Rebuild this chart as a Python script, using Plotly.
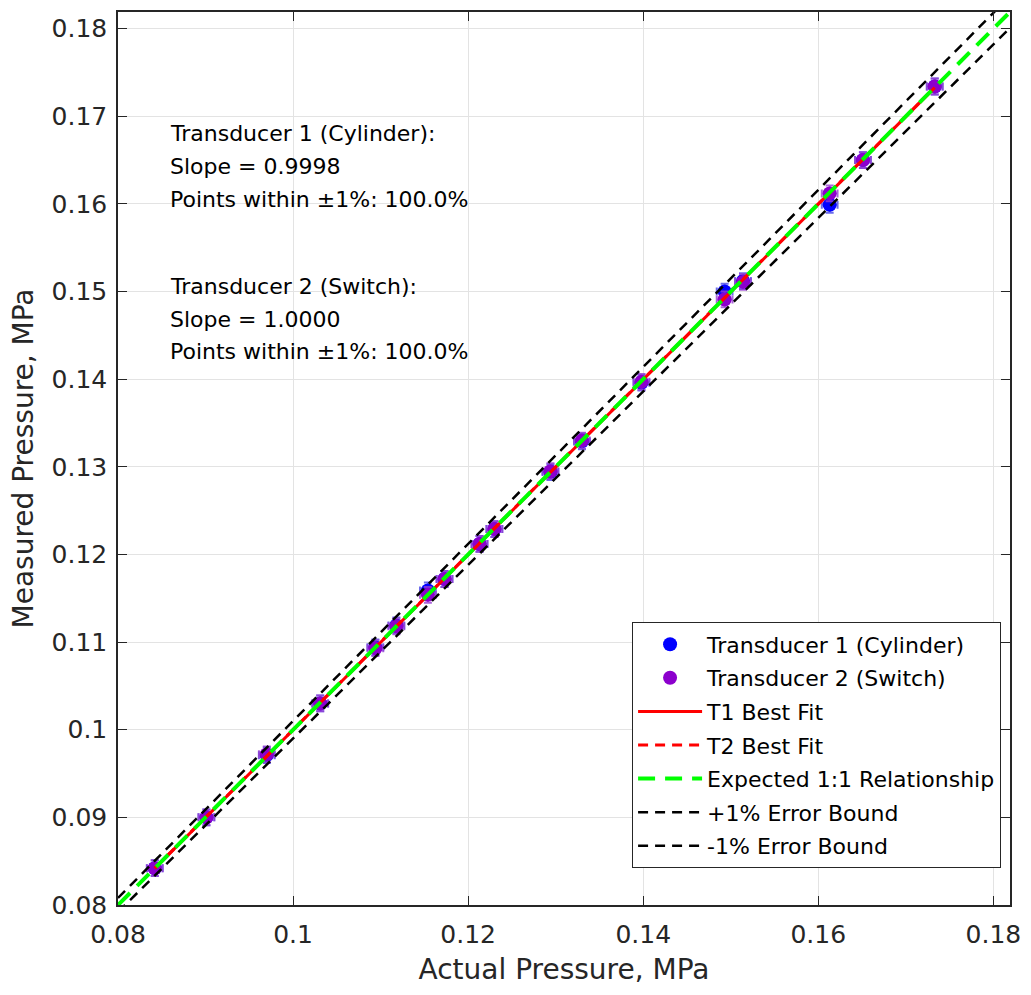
import numpy as np
import plotly.graph_objects as go

# Reference (actual) pressures, MPa
actual = [0.0842, 0.0901, 0.0970, 0.1031, 0.1094, 0.1118, 0.1154, 0.1173, 0.1213,
          0.1230, 0.1294, 0.1330, 0.1398, 0.1493, 0.1514, 0.1613, 0.1651, 0.1733]
# Transducer readings, MPa
t1_measured = [0.0842, 0.0900, 0.0971, 0.1030, 0.1094, 0.1119, 0.1159, 0.1172, 0.1212,
               0.1229, 0.1294, 0.1329, 0.1396, 0.1500, 0.1512, 0.1599, 0.1650, 0.1734]
t2_measured = [0.0842, 0.0900, 0.0972, 0.1030, 0.1093, 0.1118, 0.1154, 0.1172, 0.1212,
               0.1229, 0.1295, 0.1330, 0.1397, 0.1491, 0.1511, 0.1612, 0.1650, 0.1734]
# Measurement uncertainty, MPa
x_err = 0.0009
y_err = 0.0009

# Linear fit parameters (measured = slope * actual + intercept)
fit_slope = [0.9998, 1.0000]
fit_intercept = [0.0, 0.0]
tolerance = 0.01

axis_lo, axis_hi = 0.08, 0.1819
x_tickvals = [0.08, 0.10, 0.12, 0.14, 0.16, 0.18]
x_ticktext = ["0.08", "0.1", "0.12", "0.14", "0.16", "0.18"]
y_tickvals = [0.08, 0.09, 0.10, 0.11, 0.12, 0.13, 0.14, 0.15, 0.16, 0.17, 0.18]
y_ticktext = ["0.08", "0.09", "0.1", "0.11", "0.12", "0.13", "0.14", "0.15", "0.16", "0.17", "0.18"]

FONT = "DejaVu Sans"
AX = "#262626"

ax = np.array(actual)
within = []
for meas in (t1_measured, t2_measured):
    rel = np.abs(np.array(meas) - ax) / ax
    within.append(100.0 * np.mean(rel <= tolerance))

fig = go.Figure()

def data_trace(meas, name, color, bar_color, rank):
    return go.Scatter(
        x=actual, y=meas, mode="markers", name=name, legendrank=rank, legendgroup=name,
        marker=dict(color=color, size=14, line=dict(width=0)),
        error_x=dict(type="constant", value=x_err, color=bar_color, thickness=2, width=4),
        error_y=dict(type="constant", value=y_err, color=bar_color, thickness=2, width=4),
    )

fig.add_trace(data_trace(t1_measured, "Transducer 1 (Cylinder)", "rgb(0,0,255)",
                         "rgba(70,70,230,0.8)", 1))
fig.add_trace(data_trace(t2_measured, "Transducer 2 (Switch)", "rgb(140,0,205)",
                         "rgba(150,60,210,0.8)", 2))

def line_trace(x, y, name, color, width, dash, rank):
    return go.Scatter(x=x, y=y, mode="lines", name=name, legendrank=rank, legendgroup=name,
                      line=dict(color=color, width=width, dash=dash))

xr = np.array([axis_lo, axis_hi])
fig.add_trace(line_trace(xr, xr * (1 + tolerance), "+1% Error Bound", "black", 2.5, "10px,7px", 6))
fig.add_trace(line_trace(xr, xr * (1 - tolerance), "-1% Error Bound", "black", 2.5, "10px,7px", 7))

xf = np.array([min(actual), max(actual)])
fig.add_trace(line_trace(xf, fit_slope[0] * xf + fit_intercept[0], "T1 Best Fit",
                         "rgb(255,0,0)", 3, "solid", 3))
fig.add_trace(line_trace(xf, fit_slope[1] * xf + fit_intercept[1], "T2 Best Fit",
                         "rgb(255,0,0)", 3, "10px,7px", 4))
fig.add_trace(line_trace(xr, xr, "Expected 1:1 Relationship", "rgb(0,255,0)", 4,
                         "17px,10px", 5))

# Fit summary text
lines = [
    "Transducer 1 (Cylinder):",
    f"Slope = {fit_slope[0]:.4f}",
    f"Points within \u00b11%: {within[0]:.1f}%",
    "Transducer 2 (Switch):",
    f"Slope = {fit_slope[1]:.4f}",
    f"Points within \u00b11%: {within[1]:.1f}%",
]
line_y = [132, 165, 198, 285, 318, 350]
for txt, py in zip(lines, line_y):
    fig.add_annotation(text=txt, xref="paper", yref="paper",
                       x=(168 - 118) / 898, y=(905 - py) / 895,
                       xanchor="left", yanchor="middle", showarrow=False,
                       font=dict(family=FONT, size=22, color="black"))

axis_common = dict(
    range=[axis_lo, axis_hi], showgrid=True, gridcolor="#e3e3e3", gridwidth=1,
    showline=True, linecolor=AX, linewidth=1.5, mirror="allticks",
    ticks="inside", ticklen=9, tickwidth=1.2, tickcolor=AX, zeroline=False,
    tickfont=dict(family=FONT, size=25, color=AX),
)

fig.update_xaxes(**axis_common, tickmode="array", tickvals=x_tickvals, ticktext=x_ticktext,
                 title=dict(text="Actual Pressure, MPa", font=dict(family=FONT, size=28, color=AX),
                            standoff=12),
                 ticklabelstandoff=6)
fig.update_yaxes(**axis_common, tickmode="array", tickvals=y_tickvals, ticktext=y_ticktext,
                 title=dict(text="Measured Pressure, MPa", font=dict(family=FONT, size=28, color=AX),
                            standoff=10),
                 ticklabelstandoff=4)

fig.update_layout(
    width=1031, height=995,
    margin=dict(l=118, r=15, t=10, b=90),
    paper_bgcolor="white", plot_bgcolor="white",
    font=dict(family=FONT, color=AX),
    legend=dict(x=0.99, y=0.041, xanchor="right", yanchor="bottom",
                bgcolor="white", bordercolor=AX, borderwidth=1,
                font=dict(family=FONT, size=22, color="black"),
                traceorder="grouped", tracegroupgap=2, itemwidth=64),
    showlegend=True,
)

fig.write_html("out.html")
